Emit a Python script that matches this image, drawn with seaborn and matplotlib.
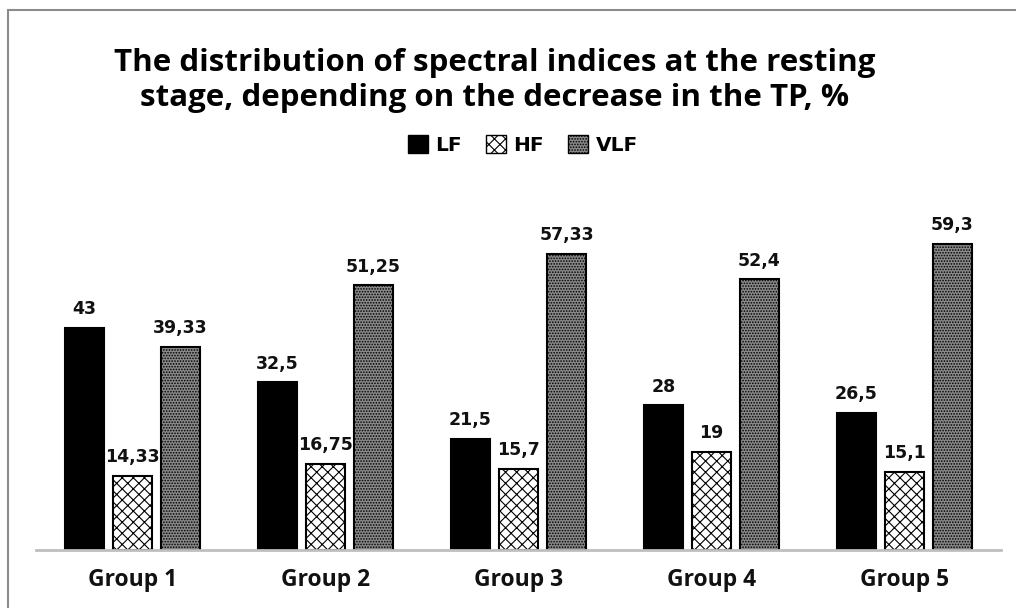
import numpy as np
import pandas as pd
import seaborn as sns
import matplotlib.pyplot as plt
from matplotlib.patches import Patch, Rectangle

groups = ["Group 1", "Group 2", "Group 3", "Group 4", "Group 5"]
series = ["LF", "HF", "VLF"]
lf = [43, 32.5, 21.5, 28, 26.5]
hf = [14.33, 16.75, 15.7, 19, 15.1]
vlf = [39.33, 51.25, 57.33, 52.4, 59.3]

df = pd.DataFrame({
    "group": groups * 3,
    "series": ["LF"] * 5 + ["HF"] * 5 + ["VLF"] * 5,
    "value": lf + hf + vlf,
})

sns.set_theme(style="white")
plt.rcParams["font.family"] = ["Open Sans", "DejaVu Sans"]
plt.rcParams["font.weight"] = "bold"
plt.rcParams["text.color"] = "black"
plt.rcParams["hatch.linewidth"] = 0.8

fig = plt.figure(figsize=(10.16, 6.08), dpi=100)
ax = fig.add_axes([36 / 1016, 58 / 608, 965 / 1016, 350 / 608])

faces = {"LF": "black", "HF": "white", "VLF": "#8a8a8a"}
hatches = {"LF": "", "HF": "xxx", "VLF": "......"}

sns.barplot(data=df, x="group", y="value", hue="series", order=groups,
            hue_order=series, palette=faces, width=0.746, gap=0.17,
            edgecolor="black", linewidth=1.5, legend=False, ax=ax)

for cont, s in zip(ax.containers, series):
    for bar in cont:
        bar.set_hatch(hatches[s])
        bar.set_edgecolor("black")
    labels = [f"{v:g}".replace(".", ",") for v in cont.datavalues]
    ax.bar_label(cont, labels=labels, padding=7, fontsize=12.5,
                 fontweight="bold", color="#111111", family="DejaVu Sans")

ax.set_xlim(-0.5, 4.5)
ax.set_ylim(0, 67.8)
ax.set_xlabel("")
ax.set_ylabel("")
ax.set_yticks([])
ax.set_xticks(range(len(groups)))
ax.set_xticklabels(groups, fontsize=16.5, fontweight="bold", color="#111111")
ax.tick_params(axis="x", length=0, pad=13)
sns.despine(ax=ax, left=True)
ax.spines["bottom"].set_color("#bfbfbf")
ax.spines["bottom"].set_linewidth(2)

fig.text(495 / 1016, 1 - 80.5 / 608,
         "The distribution of spectral indices at the resting\nstage, depending on the decrease in the TP, %",
         ha="center", va="center", fontsize=22.5, fontweight="bold",
         linespacing=1.2, color="black")

handles = [Patch(facecolor=faces[s], edgecolor="black", hatch=hatches[s], label=s)
           for s in series]
fig.legend(handles=handles, loc="center", bbox_to_anchor=(523 / 1016, 1 - 145 / 608),
           ncol=3, frameon=False, handlelength=1.0, handleheight=1.0,
           handletextpad=0.35, columnspacing=1.2,
           prop={"family": "DejaVu Sans", "weight": "bold", "size": 14.5})

fig.patches.append(Rectangle((8 / 1016, -0.1), 1.2, 1.0 + 0.1 - 10 / 608,
                             transform=fig.transFigure, fill=False,
                             edgecolor="#8c8c8c", linewidth=1.5))

fig.savefig("out.png", dpi=100)
